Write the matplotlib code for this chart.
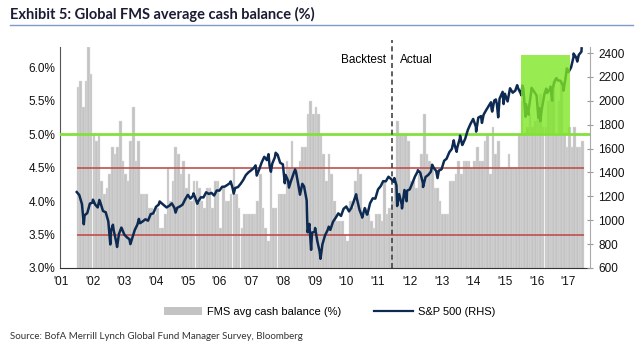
import numpy as np
import pandas as pd
import matplotlib
matplotlib.use("Agg")
import matplotlib.pyplot as plt
from matplotlib.patches import Patch, Rectangle
from matplotlib.lines import Line2D

plt.rcParams['font.family'] = ['Liberation Sans', 'DejaVu Sans']

# FMS average cash balance (%), monthly Jul 2001 - Jun 2017
cash = [5.7, 5.8, 5.4, 5.8, 6.3, 5.9,
        5.0, 4.9, 5.0, 4.3, 4.1, 4.2, 4.4, 4.8, 4.7, 4.8, 5.2, 4.6,
        4.4, 4.3, 4.9, 5.4, 4.6, 4.9, 4.1, 4.1, 4.1, 3.9, 3.9, 3.8,
        3.9, 3.6, 3.6, 3.8, 4.5, 4.0, 4.3, 4.8, 4.7, 4.4, 4.6, 4.2,
        4.4, 4.0, 4.3, 4.3, 4.2, 4.0, 3.9, 4.2, 4.2, 3.9, 4.3, 4.3,
        3.6, 4.2, 4.0, 4.0, 4.1, 4.5, 4.1, 3.9, 3.6, 3.8, 3.8, 3.8,
        3.8, 3.8, 4.0, 4.4, 3.9, 3.6, 3.4, 4.5, 3.9, 3.9, 4.1, 4.1,
        4.1, 4.6, 4.5, 4.9, 4.4, 4.5, 4.6, 4.8, 4.8, 5.3, 5.5, 5.3,
        5.4, 5.3, 5.0, 4.7, 4.3, 4.7, 4.4, 4.0, 3.7, 3.7, 3.7, 3.5,
        3.4, 4.0, 3.9, 4.3, 4.5, 4.4, 3.8, 3.9, 3.8, 3.7, 3.6, 3.8,
        3.8, 3.7, 4.3, 3.8, 3.9, 4.0, 4.3, 5.2, 5.0, 5.0, 5.0, 4.9,
        4.3, 4.3, 4.2, 4.4, 4.7, 5.3, 4.7, 4.6, 4.5, 4.2, 4.2, 4.0,
        3.8, 3.8, 3.8, 4.3, 4.3, 4.4, 4.6, 4.4, 4.6, 4.6, 4.6, 4.5,
        4.6, 4.8, 4.6, 4.6, 4.9, 5.0, 4.4, 5.1, 4.7, 4.9, 4.5, 4.5,
        4.5, 4.7, 4.5, 4.5, 4.5, 5.0, 5.5, 5.0, 5.1, 5.3, 5.1, 5.2,
        5.4, 5.6, 5.1, 5.1, 5.5, 5.7, 5.8, 5.0, 5.5, 5.8, 5.0, 4.8,
        5.1, 4.8, 5.1, 4.8, 4.8, 4.9]

# S&P 500 month-end closes, Jul 2001 - May 2017
spx_monthly = [1211, 1134, 1041, 1060, 1139, 1148,
               1130, 1107, 1147, 1077, 1067, 990, 912, 916, 815, 886, 936, 880,
               856, 841, 848, 917, 964, 975, 990, 1008, 996, 1051, 1058, 1112,
               1131, 1145, 1126, 1107, 1121, 1141, 1102, 1104, 1115, 1130, 1174, 1212,
               1181, 1204, 1181, 1157, 1192, 1191, 1234, 1220, 1229, 1207, 1249, 1248,
               1280, 1281, 1295, 1311, 1270, 1270, 1277, 1304, 1336, 1378, 1401, 1418,
               1438, 1407, 1421, 1482, 1531, 1503, 1455, 1474, 1527, 1549, 1481, 1468,
               1379, 1331, 1323, 1386, 1400, 1280, 1267, 1283, 1166, 969, 896, 903,
               826, 735, 798, 873, 919, 919, 987, 1021, 1057, 1036, 1096, 1115,
               1074, 1104, 1169, 1187, 1089, 1031, 1102, 1049, 1141, 1183, 1181, 1258,
               1286, 1327, 1326, 1364, 1345, 1321, 1292, 1219, 1131, 1253, 1247, 1258,
               1312, 1366, 1408, 1398, 1310, 1362, 1379, 1407, 1441, 1412, 1416, 1426,
               1498, 1515, 1569, 1598, 1631, 1606, 1686, 1633, 1682, 1757, 1806, 1848,
               1783, 1859, 1872, 1884, 1924, 1960, 1931, 2003, 1972, 2018, 2068, 2059,
               1995, 2105, 2068, 2086, 2107, 2063, 2104, 1972, 1920, 2079, 2080, 2044,
               1940, 1932, 2060, 2065, 2097, 2099, 2174, 2171, 2168, 2126, 2199, 2239,
               2279, 2364, 2363, 2384, 2412]

# intra-month highs/lows
spx_extra_dates = ['2001-07-02', '2001-09-21', '2002-01-04', '2002-03-19', '2002-07-23',
                   '2002-08-22', '2002-10-09', '2002-11-27', '2003-03-11', '2003-06-17',
                   '2004-02-11', '2004-08-12', '2005-03-07', '2005-04-20', '2006-05-09',
                   '2006-06-13', '2007-02-20', '2007-03-05', '2007-07-19', '2007-08-15',
                   '2007-10-09', '2008-01-22', '2008-03-10', '2008-05-19', '2008-07-15',
                   '2008-08-11', '2008-10-10', '2008-11-20', '2009-01-06', '2009-03-09',
                   '2009-06-12', '2010-04-23', '2010-07-02', '2010-08-26', '2011-04-29',
                   '2011-07-07', '2011-08-08', '2011-10-03', '2011-11-25', '2012-04-02',
                   '2012-06-01', '2012-09-14', '2012-11-15', '2013-05-21', '2013-06-24',
                   '2013-08-02', '2013-08-27', '2014-02-03', '2014-04-11', '2014-07-24',
                   '2014-08-07', '2014-09-18', '2014-10-15', '2014-12-05', '2014-12-16',
                   '2015-05-21', '2015-07-08', '2015-07-20', '2015-08-25', '2015-09-29',
                   '2015-11-03', '2016-01-20', '2016-02-11', '2016-04-20', '2016-06-08',
                   '2016-06-27', '2016-08-15', '2016-11-04', '2016-12-13', '2017-03-01',
                   '2017-04-13', '2017-06-02']
spx_extra = [1236, 966, 1172, 1170, 797, 962, 776, 938, 800, 1011,
             1157, 1064, 1225, 1138, 1325, 1223, 1459, 1374, 1553, 1406,
             1565, 1310, 1273, 1426, 1214, 1305, 899, 752, 935, 677,
             946, 1217, 1022, 1047, 1364, 1353, 1119, 1099, 1159, 1419,
             1278, 1465, 1353, 1669, 1573, 1709, 1630, 1742, 1815, 1988,
             1910, 2011, 1862, 2075, 1973, 2131, 2046, 2128, 1867, 1884,
             2109, 1859, 1829, 2102, 2119, 2001, 2190, 2085, 2271, 2396,
             2329, 2439]

years = ["'01", "'02", "'03", "'04", "'05", "'06", "'07", "'08", "'09",
         "'10", "'11", "'12", "'13", "'14", "'15", "'16", "'17"]


def dec_year(d):
    return d.year + (d.dayofyear - 1) / 365.25


bar_dates = pd.date_range('2001-07-01', periods=len(cash), freq='MS') + pd.Timedelta(days=14)
bx = np.array([dec_year(d) for d in bar_dates])

sp = pd.Series(spx_monthly, index=pd.date_range('2001-07-31', periods=len(spx_monthly), freq='ME'))
sp = pd.concat([sp, pd.Series(spx_extra, index=pd.to_datetime(spx_extra_dates))]).sort_index()
sx = np.array([dec_year(d) for d in sp.index])

fig = plt.figure(figsize=(6.37, 3.54), dpi=100)
ax = fig.add_axes([0.0942, 0.243, 0.832, 0.624])
ax2 = ax.twinx()

ax.bar(bx, cash, width=1 / 12, bottom=0, color='#c3c3c3', edgecolor='#e2e2e2',
       linewidth=0.3, zorder=1)
ax.axhline(5.0, color='#84e03c', lw=2, zorder=3)
ax.hlines([4.5, 3.5], bx[0] - 0.04, bx[-1] + 0.04, color='#c0504d', lw=1.2, zorder=2)

ax2.plot(sx, sp.values, color='#0d2a52', lw=1.8, zorder=3)
ax2.add_patch(Rectangle((2015.5, 1720), 1.55, 660, facecolor='#7fe626', alpha=0.8,
                        edgecolor='none', zorder=4))

ax.set_xlim(2000.97, 2017.68)
ax.set_ylim(3.0, 6.3)
ax2.set_ylim(600, 2450)
ax.set_xticks(np.arange(2001, 2018))
ax.set_xticklabels(years)
ax.set_yticks([3.0, 3.5, 4.0, 4.5, 5.0, 5.5, 6.0])
ax.set_yticklabels([f'{v:.1f}%' for v in [3.0, 3.5, 4.0, 4.5, 5.0, 5.5, 6.0]])
ax2.set_yticks(np.arange(600, 2401, 200))

for a in (ax, ax2):
    a.spines['top'].set_visible(False)
    a.tick_params(labelsize=8.5, length=3, color='#999999', colors='#111111')
ax.spines['left'].set_color('#555555')
ax.spines['bottom'].set_color('#333333')
ax.spines['right'].set_visible(False)
ax2.spines['left'].set_visible(False)
ax2.spines['bottom'].set_visible(False)
ax2.spines['right'].set_color('#aaaaaa')
ax.tick_params(axis='x', length=0, pad=6)
ax.tick_params(axis='y', length=0)
ax2.tick_params(axis='y', direction='inout', length=5)

ax.axvline(2011.45, ymin=0, ymax=1.03, color='#444444', ls=(0, (3, 2)), lw=1.2,
           clip_on=False, zorder=5)
ax.text(2011.25, 6.1, 'Backtest', ha='right', va='center', fontsize=8.5)
ax.text(2011.7, 6.1, 'Actual', ha='left', va='center', fontsize=8.5)

handles = [Patch(facecolor='#c3c3c3', edgecolor='none'),
           Line2D([0], [0], color='#0d2a52', lw=1.6)]
fig.legend(handles, ['FMS avg cash balance (%)', 'S&P 500 (RHS)'], loc='center',
           bbox_to_anchor=(0.517, 0.118), ncol=2, frameon=False, fontsize=8,
           handlelength=3.5, columnspacing=3.0, handletextpad=0.4)

fig.text(0.016, 0.96, 'Exhibit 5: Global FMS average cash balance (%)', fontsize=10.5,
         fontweight='bold', color='#1b1b33', va='center', family=['Lato', 'DejaVu Sans'])
fig.add_artist(Line2D([0.016, 0.994], [0.93, 0.93], color='#7f9cc8', lw=1))
fig.text(0.016, 0.05, 'Source: BofA Merrill Lynch Global Fund Manager Survey, Bloomberg',
         fontsize=7, color='#333333', va='center', family=['Lato', 'DejaVu Sans'])

fig.savefig('out.png', dpi=100)
